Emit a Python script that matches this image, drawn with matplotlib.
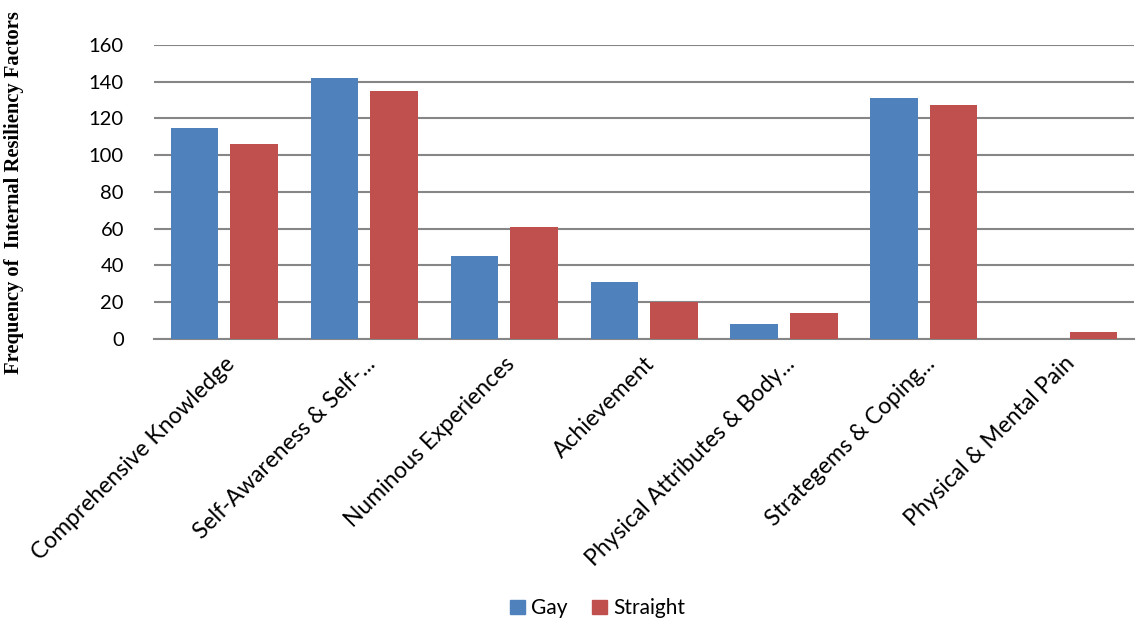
import numpy as np
import matplotlib
matplotlib.use("Agg")
import matplotlib.pyplot as plt
from matplotlib.patches import Patch

categories = ["Comprehensive Knowledge", "Self-Awareness & Self-...", "Numinous Experiences",
              "Achievement", "Physical Attributes & Body...", "Strategems & Coping...",
              "Physical & Mental Pain"]
gay = [115, 142, 45, 31, 8, 131, 0]
straight = [106, 135, 61, 20, 14, 127, 4]

BLUE, RED, GRID = "#4F81BD", "#C0504D", "#868686"

plt.rcParams["font.family"] = ["Lato", "DejaVu Sans"]

fig = plt.figure(figsize=(11.36, 6.22), dpi=100)
ax = fig.add_axes([0.136, 0.455, 0.862, 0.473])

x = np.arange(len(categories))
w, off = 0.34, 0.213
ax.bar(x - off, gay, w, color=BLUE, zorder=3)
ax.bar(x + off, straight, w, color=RED, zorder=3)

ax.set_xlim(-0.5, len(categories) - 0.5)
ax.set_ylim(0, 160)
ax.set_yticks(range(0, 161, 20))
ax.yaxis.grid(True, color=GRID, linewidth=1.5, zorder=0)
ax.set_axisbelow(True)
for s in ("top", "right", "left"):
    ax.spines[s].set_visible(False)
ax.spines["bottom"].set_color(GRID)
ax.spines["bottom"].set_linewidth(1.5)
ax.tick_params(axis="y", length=0, labelsize=14.5, pad=22)
ax.tick_params(axis="x", length=0, labelsize=16.5, pad=10)
ax.set_xticks(x)
ax.set_xticklabels(categories, rotation=45, ha="right", rotation_mode="anchor")

fig.text(0.012, 0.69, "Frequency of  Internal Resiliency Factors", rotation=90,
         family="Liberation Serif", fontweight="bold", fontsize=14.8,
         ha="center", va="center")

handles = [Patch(color=BLUE, label="Gay"), Patch(color=RED, label="Straight")]
fig.legend(handles=handles, loc="center", bbox_to_anchor=(0.526, 0.022), ncol=2,
           frameon=False, fontsize=15, handlelength=0.7, handleheight=0.7,
           handletextpad=0.3, columnspacing=1.2)

fig.savefig("out.png", dpi=100)
